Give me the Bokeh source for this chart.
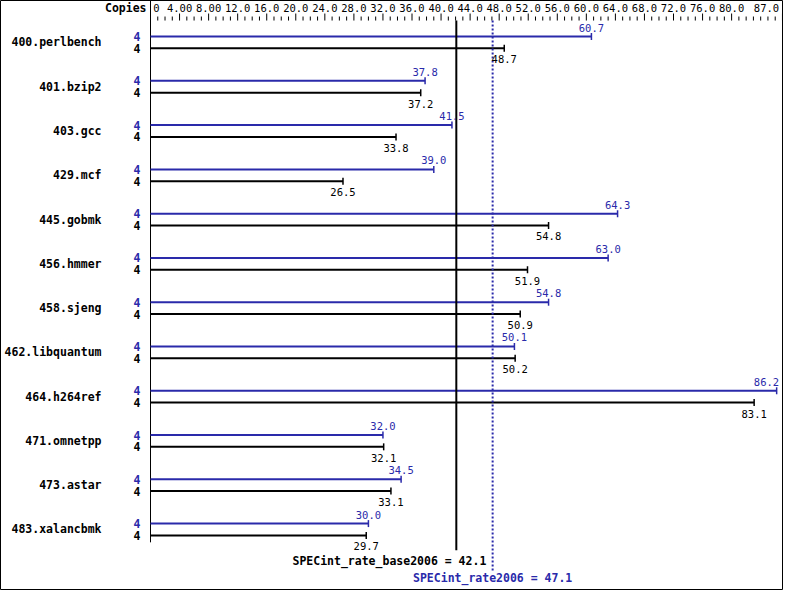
import math
from bokeh.plotting import figure
from bokeh.models import Range1d
from bokeh.core.properties import value
from bokeh.embed import file_html
from bokeh.resources import INLINE

# ---------------- data ----------------
benchmarks = ["400.perlbench", "401.bzip2", "403.gcc", "429.mcf", "445.gobmk",
              "456.hmmer", "458.sjeng", "462.libquantum", "464.h264ref",
              "471.omnetpp", "473.astar", "483.xalancbmk"]
peak_ratio = [60.7, 37.8, 41.5, 39.0, 64.3, 63.0, 54.8, 50.1, 86.2, 32.0, 34.5, 30.0]
base_ratio = [48.7, 37.2, 33.8, 26.5, 54.8, 51.9, 50.9, 50.2, 83.1, 32.1, 33.1, 29.7]
peak_copies = [4, 4, 4, 4, 4, 4, 4, 4, 4, 4, 4, 4]
base_copies = [4, 4, 4, 4, 4, 4, 4, 4, 4, 4, 4, 4]
tick_values = [0, 4, 8, 12, 16, 20, 24, 28, 32, 36, 40, 44, 48, 52, 56, 60,
               64, 68, 72, 76, 80, 87]
tick_labels = ["0", "4.00", "8.00", "12.0", "16.0", "20.0", "24.0", "28.0",
               "32.0", "36.0", "40.0", "44.0", "48.0", "52.0", "56.0", "60.0",
               "64.0", "68.0", "72.0", "76.0", "80.0", "87.0"]
minor_tick_values = list(range(0, 88))
base_score = 42.1
peak_score = 47.1
axis_title = "Copies"

# ---------------- style / layout ----------------
BLUE = "#2a2aaa"
BLACK = "#000000"
MONO = "DejaVu Sans Mono"
W, H = 783, 590
LEFT_PX = 150            # pixel where 0 sits
PX_PER_UNIT = 7.264
ROW_PX = 44.2            # pixels per benchmark row
OFF = 0.1333             # row offset of the two bars
FIRST_BAR_PX = 36        # pixel of the first (peak) bar

x_start = -LEFT_PX / PX_PER_UNIT
x_end = x_start + W / PX_PER_UNIT
y_top = -OFF - FIRST_BAR_PX / ROW_PX
y_bottom = y_top + (H - 1) / ROW_PX
axis_row = y_top + 20 / ROW_PX        # tick baseline
label_row_offset = -12.5              # px from baseline to tick label centre
# per-label horizontal nudges for the first and last tick label (kept inside frame)
tick_label_dx = [6] + [0] * (len(tick_values) - 2) + [-16]

p = figure(width=W, height=H, output_backend="svg", toolbar_location=None,
           x_range=Range1d(x_start, x_end), y_range=Range1d(y_bottom, y_top),
           x_axis_location=None, y_axis_location=None,
           min_border=0, min_border_left=0, min_border_right=0,
           min_border_top=0, min_border_bottom=0)
p.grid.visible = False
p.outline_line_color = BLACK
p.outline_line_width = 1
p.background_fill_color = "white"
p.border_fill_color = "white"

# ---- top scale (ticks + labels) ----
minor_only = [t for t in minor_tick_values if t not in tick_values]
p.segment(x0=minor_only, y0=[axis_row] * len(minor_only),
          x1=minor_only, y1=[axis_row - 4 / ROW_PX] * len(minor_only),
          line_color=BLACK, line_width=1)
p.segment(x0=tick_values, y0=[axis_row] * len(tick_values),
          x1=tick_values, y1=[axis_row - 7 / ROW_PX] * len(tick_values),
          line_color=BLACK, line_width=1)
p.text(x=tick_values, y=[axis_row] * len(tick_values), text=tick_labels,
       x_offset=tick_label_dx, y_offset=label_row_offset,
       text_align="center", text_baseline="middle", text_font=value(MONO),
       text_font_size="10.5px", text_color=BLACK)
p.text(x=[0], y=[axis_row], text=[axis_title], x_offset=-4, y_offset=label_row_offset,
       text_align="right", text_baseline="middle", text_font=value(MONO),
       text_font_style="bold", text_font_size="11.5px", text_color=BLACK)

rows = list(range(len(benchmarks)))
peak_y = [r - OFF for r in rows]
base_y = [r + OFF for r in rows]
zeros = [0] * len(rows)

# vertical line at 0 (through the scale strip)
p.segment(x0=[0], y0=[y_top], x1=[0], y1=[11.29], line_color=BLACK, line_width=1)

# bars
p.segment(x0=zeros, y0=peak_y, x1=peak_ratio, y1=peak_y, line_color=BLUE, line_width=2)
p.segment(x0=zeros, y0=base_y, x1=base_ratio, y1=base_y, line_color=BLACK, line_width=2)
p.scatter(x=peak_ratio, y=peak_y, marker="dash", angle=math.pi / 2, size=7,
          line_color=BLUE, line_width=1.5)
p.scatter(x=base_ratio, y=base_y, marker="dash", angle=math.pi / 2, size=7,
          line_color=BLACK, line_width=1.5)

# score lines
p.segment(x0=[base_score], y0=[axis_row], x1=[base_score], y1=[11.47],
          line_color=BLACK, line_width=2)
p.segment(x0=[peak_score], y0=[axis_row], x1=[peak_score], y1=[11.93],
          line_color=BLUE, line_width=2, line_dash="2 2")


def keep_inside(vals, half_width=13, margin=4):
    out = []
    for v in vals:
        px = LEFT_PX + v * PX_PER_UNIT
        over = px + half_width - (W - margin)
        out.append(-over if over > 0 else 0)
    return out


# value labels
p.text(x=peak_ratio, y=peak_y, text=[f"{v:.1f}" for v in peak_ratio],
       x_offset=keep_inside(peak_ratio), y_offset=-9,
       text_align="center", text_baseline="middle", text_font=value(MONO),
       text_font_size="10.5px", text_color=BLUE)
p.text(x=base_ratio, y=base_y, text=[f"{v:.1f}" for v in base_ratio],
       x_offset=keep_inside(base_ratio), y_offset=11,
       text_align="center", text_baseline="middle", text_font=value(MONO),
       text_font_size="10.5px", text_color=BLACK)

# benchmark names and copies
p.text(x=zeros, y=rows, text=benchmarks, x_offset=-49, text_align="right",
       text_baseline="middle", text_font=value(MONO), text_font_style="bold",
       text_font_size="11.5px", text_color=BLACK)
p.text(x=zeros, y=peak_y, text=[str(c) for c in peak_copies], x_offset=-10,
       text_align="right", text_baseline="middle", text_font=value(MONO),
       text_font_style="bold", text_font_size="11.5px", text_color=BLUE)
p.text(x=zeros, y=base_y, text=[str(c) for c in base_copies], x_offset=-10,
       text_align="right", text_baseline="middle", text_font=value(MONO),
       text_font_style="bold", text_font_size="11.5px", text_color=BLACK)

# score labels
p.text(x=[base_score], y=[11.71], text=[f"SPECint_rate_base2006 = {base_score}"],
       x_offset=30, text_align="right", text_baseline="middle",
       text_font=value(MONO), text_font_style="bold", text_font_size="11.5px",
       text_color=BLACK)
p.text(x=[peak_score], y=[12.087], text=[f"SPECint_rate2006 = {peak_score}"],
       text_align="center", text_baseline="middle",
       text_font=value(MONO), text_font_style="bold", text_font_size="11.5px",
       text_color=BLUE)

open("out.html", "w").write(file_html(p, INLINE))
